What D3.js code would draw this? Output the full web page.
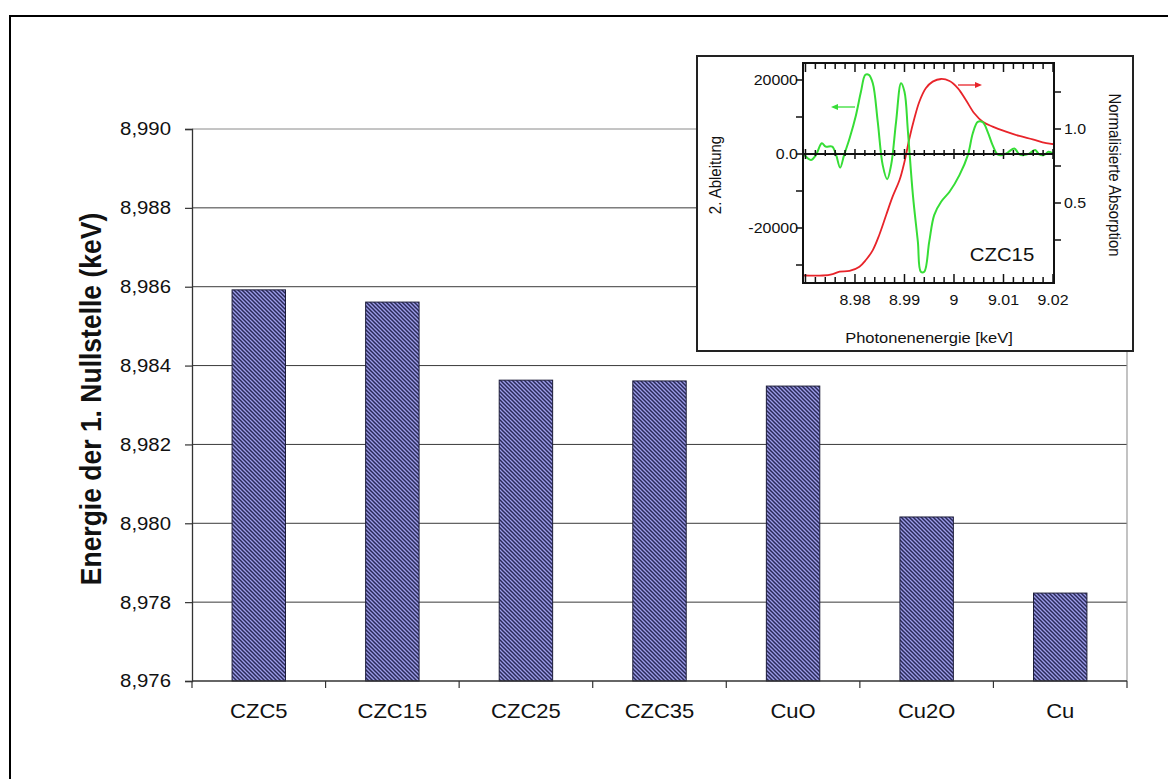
<!DOCTYPE html>
<html>
<head>
<meta charset="utf-8">
<script src="https://cdn.jsdelivr.net/npm/d3@7"></script>
<style>
  html, body { margin: 0; padding: 0; background: #fff; }
  svg { display: block; }
  text { font-family: "Liberation Sans", Arial, sans-serif; fill: #111; }
</style>
</head>
<body>
<svg id="chart" width="1168" height="779"></svg>
<script>
// Energy of the first zero crossing of the 2nd derivative per sample
const categories = ["CZC5", "CZC15", "CZC25", "CZC35", "CuO", "Cu2O", "Cu"];
const zeroEnergy = [8.98592, 8.98561, 8.98363, 8.98361, 8.98348, 8.98016, 8.97823];
const yTicks = [8.976, 8.978, 8.980, 8.982, 8.984, 8.986, 8.988, 8.990];

// Inset: CZC15 edge spectrum (photon energy in keV)
const derivEnergy = [8.9696, 8.9711, 8.9721, 8.9733, 8.9741, 8.9754, 8.9762, 8.9770, 8.9778, 8.9789,
  8.9802, 8.9812, 8.9821, 8.9828, 8.9836, 8.9846, 8.9856, 8.9865, 8.9873, 8.9883,
  8.9893, 8.9900, 8.9907, 8.9917, 8.9927, 8.9933, 8.9940, 8.9950, 8.9960, 8.9974,
  8.9991, 9.0011, 9.0028, 9.0038, 9.0048, 9.0058, 9.0068, 9.0078, 9.0088, 9.0098,
  9.0109, 9.0122, 9.0132, 9.0142, 9.0152, 9.0164, 9.0172, 9.0182, 9.0191, 9.0201];
const derivValue = [0, -1600, -300, 2900, 2000, 2000, -300, -3700, -300, 4200,
  10500, 16800, 21400, 21400, 19100, 8700, -3000, -6800, -3000, 8700,
  19100, 16800, 6000, -11100, -23700, -31800, -31800, -23700, -16500, -12900,
  -10200, -5700, -300, 5600, 8700, 8600, 6000, 2400, -100, -300,
  450, 1500, -100, -300, 100, 1100, -100, -300, 600, 0];
const absEnergy = [8.9696, 8.9735, 8.9755, 8.9769, 8.9789, 8.9809, 8.9822, 8.9836, 8.9849, 8.9863,
  8.9876, 8.9890, 8.9900, 8.9910, 8.9920, 8.9930, 8.9943, 8.9957, 8.9974, 8.9991,
  9.0008, 9.0024, 9.0041, 9.0058, 9.0078, 9.0105, 9.0132, 9.0159, 9.0179, 9.0202];
const absValue = [0.010, 0.010, 0.020, 0.036, 0.041, 0.070, 0.115, 0.182, 0.284, 0.419,
  0.543, 0.655, 0.779, 0.937, 1.072, 1.184, 1.275, 1.320, 1.338, 1.324,
  1.275, 1.196, 1.106, 1.049, 1.016, 0.982, 0.953, 0.930, 0.910, 0.897];
const insetXTicks = [8.98, 8.99, 9.00, 9.01, 9.02];
const insetLeftTicks = [-20000, 0, 20000];
const insetRightTicks = [0.5, 1.0];

const SX = 1.1; // horizontal text stretch
const svg = d3.select("#chart");

function label(g, x, y, s, o = {}) {
  const t = g.append("text")
    .attr("transform", `translate(${x},${y}) scale(${SX},1)` + (o.rotate ? ` rotate(${o.rotate})` : ""))
    .attr("text-anchor", o.anchor || "middle")
    .style("font-size", (o.size || 16) + "px")
    .text(s);
  if (o.bold) t.style("font-weight", "bold");
  if (o.dy) t.attr("dy", o.dy);
  return t;
}

// hatched fill for the bars
const defs = svg.append("defs");
const pat = defs.append("pattern").attr("id", "hatch")
  .attr("patternUnits", "userSpaceOnUse").attr("width", 4).attr("height", 4);
pat.append("rect").attr("width", 4).attr("height", 4).attr("fill", "#9c9ce8");
pat.append("path").attr("d", "M-1,-1 L5,5 M-1,3 L1,5 M3,-1 L5,1")
  .attr("stroke", "#2a2a5a").attr("stroke-width", 1.5);

// outer frame
svg.append("rect").attr("x", 10).attr("y", 16).attr("width", 1250).attr("height", 900)
  .attr("fill", "none").attr("stroke", "#000").attr("stroke-width", 2);

// ---------- main bar chart ----------
const plot = { left: 192, right: 1127, top: 129, bottom: 681 };
const x = d3.scaleBand().domain(categories).range([plot.left, plot.right]).padding(0);
const y = d3.scaleLinear().domain([8.976, 8.990]).range([plot.bottom, plot.top]);
const fmt = d3.formatLocale({ decimal: ",", thousands: ".", grouping: [3], currency: ["", ""] }).format(".3f");

const main = svg.append("g");
// gridlines
main.selectAll("line.grid").data(yTicks.slice(1)).join("line")
  .attr("x1", plot.left).attr("x2", plot.right)
  .attr("y1", d => y(d)).attr("y2", d => y(d))
  .attr("stroke", (d, i, a) => i === a.length - 1 ? "#8a8a8a" : "#3a3a3a").attr("stroke-width", 1);
// right border of plot area
main.append("line").attr("x1", plot.right).attr("x2", plot.right)
  .attr("y1", plot.top).attr("y2", plot.bottom).attr("stroke", "#9a9a9a").attr("stroke-width", 1.2);

// bars
const barW = x.bandwidth() * 0.4;
main.selectAll("rect.bar").data(categories).join("rect")
  .attr("x", d => x(d) + (x.bandwidth() - barW) / 2)
  .attr("width", barW)
  .attr("y", (d, i) => y(zeroEnergy[i]))
  .attr("height", (d, i) => y(8.976) - y(zeroEnergy[i]))
  .attr("fill", "url(#hatch)").attr("stroke", "#1c1c3a").attr("stroke-width", 1);

// y axis
const yAxis = main.append("g").attr("transform", `translate(${plot.left},0)`)
  .call(d3.axisLeft(y).tickValues(yTicks).tickSize(7).tickFormat(""));
yAxis.select(".domain").attr("stroke", "#333").attr("stroke-width", 1.3);
yAxis.selectAll(".tick line").attr("stroke", "#333").attr("stroke-width", 1.2);
yTicks.forEach(v => label(main, 171, y(v), fmt(v), { anchor: "end", size: 18.5, dy: "0.35em" }));

// x axis
main.append("line").attr("x1", plot.left).attr("x2", plot.right)
  .attr("y1", plot.bottom).attr("y2", plot.bottom).attr("stroke", "#333").attr("stroke-width", 1.3);
const bounds = categories.map(c => x(c)).concat([plot.right]);
main.selectAll("line.xt").data(bounds).join("line")
  .attr("x1", d => d).attr("x2", d => d).attr("y1", plot.bottom).attr("y2", plot.bottom + 7)
  .attr("stroke", "#333").attr("stroke-width", 1.2);
categories.forEach(c => label(main, x(c) + x.bandwidth() / 2, 718, c, { size: 20 }));

label(main, 101, 399, "Energie der 1. Nullstelle (keV)", { size: 26.5, bold: true, rotate: -90 });

// ---------- inset: CZC15 XANES ----------
const ins = svg.append("g");
ins.append("rect").attr("x", 697).attr("y", 56).attr("width", 436).attr("height", 295)
  .attr("fill", "#fff").attr("stroke", "#222").attr("stroke-width", 2);

const f = { left: 803, right: 1054, top: 63, bottom: 283 };
const ix = d3.scaleLinear().domain([8.9695, 9.0202]).range([f.left, f.right]);
const iyL = d3.scaleLinear().domain([-20000, 20000]).range([228, 80]);
const iyR = d3.scaleLinear().domain([0.5, 1.0]).range([203, 129]);

const clip = defs.append("clipPath").attr("id", "insetClip");
clip.append("rect").attr("x", f.left).attr("y", f.top).attr("width", f.right - f.left).attr("height", f.bottom - f.top);

const curves = ins.append("g").attr("clip-path", "url(#insetClip)");
curves.append("path")
  .datum(absEnergy.map((e, i) => [e, absValue[i]]))
  .attr("d", d3.line().x(d => ix(d[0])).y(d => iyR(d[1])).curve(d3.curveCatmullRom))
  .attr("fill", "none").attr("stroke", "#e8242a").attr("stroke-width", 1.8);
curves.append("path")
  .datum(derivEnergy.map((e, i) => [e, derivValue[i]]))
  .attr("d", d3.line().x(d => ix(d[0])).y(d => iyL(d[1])).curve(d3.curveCatmullRom))
  .attr("fill", "none").attr("stroke", "#36dd36").attr("stroke-width", 2);

// minor / major ticks along energy axis
const eTicks = d3.range(0, 26).map(k => 8.97 + k * 0.002).filter(v => v <= 9.0202);
const isMajor = v => Math.abs(Math.round(v * 100) - v * 100) < 1e-6;
const tk = ins.append("g").attr("stroke", "#111").attr("stroke-width", 1.5);
eTicks.forEach(v => {
  const L = isMajor(v) ? 9 : 6;
  const px = ix(v);
  tk.append("line").attr("x1", px).attr("x2", px).attr("y1", f.top).attr("y2", f.top + L);
  tk.append("line").attr("x1", px).attr("x2", px).attr("y1", f.bottom).attr("y2", f.bottom - L);
  tk.append("line").attr("x1", px).attr("x2", px).attr("y1", iyL(0) - (isMajor(v) ? 5 : 4)).attr("y2", iyL(0) + (isMajor(v) ? 5 : 2));
});
// zero line
ins.append("line").attr("x1", f.left).attr("x2", f.right).attr("y1", iyL(0)).attr("y2", iyL(0))
  .attr("stroke", "#111").attr("stroke-width", 2);
// left ticks (outward)
[-30000, -20000, -10000, 0, 10000, 20000].forEach(v => {
  tk.append("line").attr("x1", f.left).attr("x2", f.left - 7).attr("y1", iyL(v)).attr("y2", iyL(v));
});
// right ticks (outward)
[0.25, 0.5, 0.75, 1.0, 1.25].forEach(v => {
  tk.append("line").attr("x1", f.right).attr("x2", f.right + 7).attr("y1", iyR(v)).attr("y2", iyR(v));
});
// frame
ins.append("rect").attr("x", f.left).attr("y", f.top).attr("width", f.right - f.left).attr("height", f.bottom - f.top)
  .attr("fill", "none").attr("stroke", "#111").attr("stroke-width", 2);

// tick labels
insetLeftTicks.forEach(v => label(ins, 798, iyL(v), v === 0 ? "0.0" : String(v), { anchor: "end", size: 14.5, dy: "0.35em" }));
insetRightTicks.forEach(v => label(ins, 1064, iyR(v), v.toFixed(1), { anchor: "start", size: 14.5, dy: "0.35em" }));
insetXTicks.forEach(v => label(ins, ix(v), 305, d3.format("~g")(+v.toFixed(2)), { size: 14.5 }));

label(ins, 929, 343, "Photonenenergie [keV]", { size: 15 });
label(ins, 721, 175, "2. Ableitung", { size: 15, rotate: -90 });
label(ins, 1109, 175, "Normalisierte Absorption", { size: 15, rotate: 90 });
label(ins, 1002, 261, "CZC15", { size: 18.5 });

// direction arrows
function arrow(x1, x2, yy, color) {
  const dir = Math.sign(x2 - x1);
  ins.append("line").attr("x1", x1).attr("x2", x2 - dir * 5).attr("y1", yy).attr("y2", yy)
    .attr("stroke", color).attr("stroke-width", 1.3);
  ins.append("path").attr("d", `M${x2},${yy} L${x2 - dir * 7},${yy - 3} L${x2 - dir * 7},${yy + 3} Z`).attr("fill", color);
}
arrow(855, 831, 107, "#36dd36");
arrow(958, 982, 85, "#e8242a");
</script>
</body>
</html>
